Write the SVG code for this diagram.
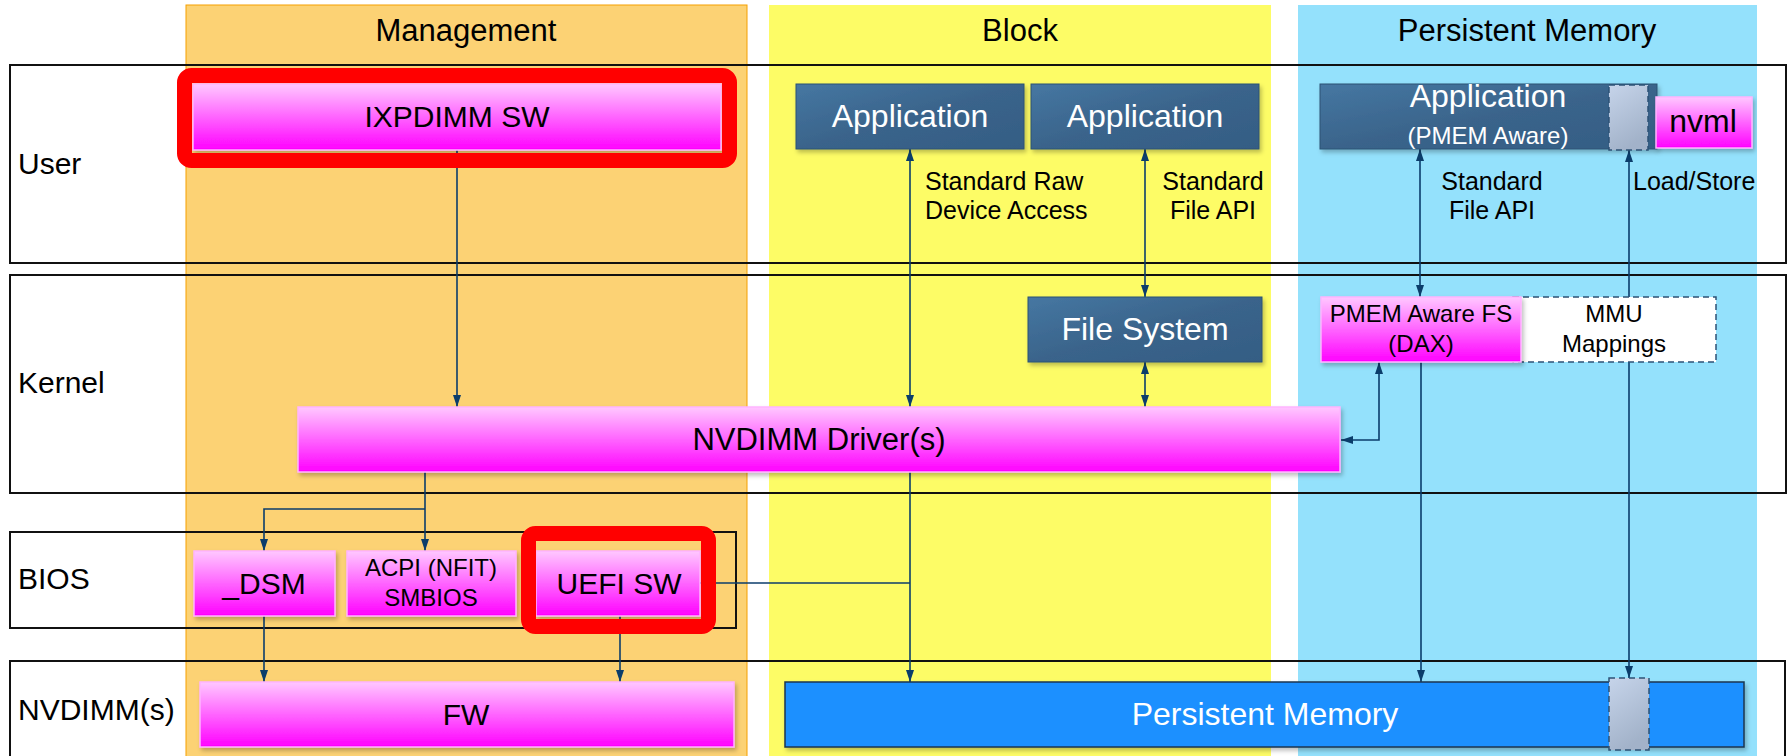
<svg xmlns="http://www.w3.org/2000/svg" width="1788" height="756" viewBox="0 0 1788 756">
<defs>
<linearGradient id="mag" x1="0" y1="0" x2="0" y2="1"><stop offset="0" stop-color="#ffc8ff"/><stop offset="1" stop-color="#ff00ff"/></linearGradient>
<linearGradient id="dk" x1="0" y1="0" x2="1" y2="1"><stop offset="0" stop-color="#4677a2"/><stop offset="0.5" stop-color="#3a648b"/><stop offset="1" stop-color="#345d84"/></linearGradient>
<linearGradient id="gry" x1="0" y1="0" x2="0.4" y2="1"><stop offset="0" stop-color="#c6d4ea"/><stop offset="1" stop-color="#a2b2c9"/></linearGradient>
<filter id="sh" x="-5%" y="-10%" width="110%" height="130%"><feDropShadow dx="2" dy="3" stdDeviation="2" flood-color="#000" flood-opacity="0.25"/></filter>
<marker id="ah" viewBox="0 0 12 8" refX="12" refY="4" markerWidth="12" markerHeight="8" markerUnits="userSpaceOnUse" orient="auto-start-reverse"><path d="M0,0 L12,4 L0,8 z" fill="#0b3d6b"/></marker>
<style>
text{font-family:"Liberation Sans",Arial,sans-serif;}
.hdr{font-size:31px;fill:#000;text-anchor:middle;}
.row{font-size:30px;fill:#000;}
.mag{fill:url(#mag);stroke:#ffb4ff;stroke-width:1.5;filter:url(#sh);}
.dk{fill:url(#dk);stroke:#2c5275;stroke-width:1;filter:url(#sh);}
.red{fill:none;stroke:#ff0000;stroke-width:15;}
.t30{font-size:30px;fill:#000;text-anchor:middle;}
.w32{font-size:32px;fill:#fff;text-anchor:middle;}
.t24{font-size:24px;fill:#000;text-anchor:middle;}
.lbl{font-size:25px;fill:#000;}
.cn path{fill:none;stroke:#0b3d6b;stroke-width:1.6;}
.dash{stroke:#2c5275;stroke-width:1.5;stroke-dasharray:6,4;}
</style>
</defs>
<rect x="0" y="0" width="1788" height="756" fill="#fff"/>
<g id="columns">
<rect x="186" y="5" width="561" height="760" fill="#fcd274" stroke="#f5a000" stroke-width="1"/>
<rect x="769" y="5" width="502" height="760" fill="#fdfc66"/>
<rect x="1298" y="5" width="459" height="760" fill="#94e1fc"/>
<text class="hdr" x="466" y="41">Management</text>
<text class="hdr" x="1020" y="41">Block</text>
<text class="hdr" x="1527" y="41">Persistent Memory</text>
</g>
<g id="rows" fill="none" stroke="#111" stroke-width="2">
<rect x="10" y="65" width="1776" height="198"/>
<rect x="10" y="275" width="1776" height="218"/>
<rect x="10" y="532" width="726" height="96"/>
<rect x="10" y="661" width="1775" height="110"/>
</g>
<g id="row-labels">
<text class="row" x="18" y="174">User</text>
<text class="row" x="18" y="393">Kernel</text>
<text class="row" x="18" y="589">BIOS</text>
<text class="row" x="18" y="720">NVDIMM(s)</text>
</g>
<g id="connectors" class="cn">
<path d="M457,150 V407" marker-end="url(#ah)"/>
<path d="M910,149 V407" marker-start="url(#ah)" marker-end="url(#ah)"/>
<path d="M910,472 V682" marker-end="url(#ah)"/>
<path d="M700,583 H910"/>
<path d="M1145,149 V297" marker-start="url(#ah)" marker-end="url(#ah)"/>
<path d="M1145,362 V407" marker-start="url(#ah)" marker-end="url(#ah)"/>
<path d="M425,472 V551" marker-end="url(#ah)"/>
<path d="M425,509 H264 V551" marker-end="url(#ah)"/>
<path d="M264,616 V682" marker-end="url(#ah)"/>
<path d="M620,616 V682" marker-end="url(#ah)"/>
<path d="M1420,149 V297" marker-start="url(#ah)" marker-end="url(#ah)"/>
<path d="M1421,362 V682" marker-end="url(#ah)"/>
<path d="M1629,150 V678" marker-start="url(#ah)" marker-end="url(#ah)"/>
<path d="M1341,440 H1379 V362" marker-start="url(#ah)" marker-end="url(#ah)"/>
</g>
<g id="ixpdimm">
<rect class="mag" x="193" y="84" width="528" height="66"/>
<text class="t30" x="457" y="127">IXPDIMM SW</text>
<rect class="red" x="184.5" y="75.5" width="545" height="85" rx="7"/>
</g>
<g id="app1">
<rect class="dk" x="796" y="84" width="228" height="65"/>
<text class="w32" x="910" y="127">Application</text>
</g>
<g id="app2">
<rect class="dk" x="1031" y="84" width="228" height="65"/>
<text class="w32" x="1145" y="127">Application</text>
</g>
<g id="label-raw">
<text class="lbl" x="925" y="190">Standard Raw</text>
<text class="lbl" x="925" y="219">Device Access</text>
</g>
<g id="label-file1">
<text class="lbl" x="1213" y="190" text-anchor="middle">Standard</text>
<text class="lbl" x="1213" y="219" text-anchor="middle">File API</text>
</g>
<g id="app-pmem">
<rect class="dk" x="1320" y="84" width="337" height="65"/>
<text class="w32" x="1488" y="107">Application</text>
<text x="1488" y="144" style="font-size:24px;fill:#fff;text-anchor:middle">(PMEM Aware)</text>
<rect x="1609" y="85" width="39" height="65" fill="url(#gry)" class="dash"/>
</g>
<g id="nvml">
<rect class="mag" x="1656" y="97" width="96" height="51"/>
<text x="1703" y="132" style="font-size:32px;fill:#000;text-anchor:middle">nvml</text>
</g>
<g id="label-file2">
<text class="lbl" x="1492" y="190" text-anchor="middle">Standard</text>
<text class="lbl" x="1492" y="219" text-anchor="middle">File API</text>
</g>
<g id="label-ls">
<text class="lbl" x="1633" y="190">Load/Store</text>
</g>
<g id="filesystem">
<rect class="dk" x="1028" y="297" width="234" height="65"/>
<text class="w32" x="1145" y="340">File System</text>
</g>
<g id="mmu">
<rect x="1513" y="297" width="203" height="65" fill="#fff" class="dash"/>
<text class="t24" x="1614" y="322">MMU</text>
<text class="t24" x="1614" y="352">Mappings</text>
</g>
<g id="pmemfs">
<rect class="mag" x="1321" y="297" width="200" height="65"/>
<text class="t24" x="1421" y="322">PMEM Aware FS</text>
<text class="t24" x="1421" y="352">(DAX)</text>
</g>
<g id="driver">
<rect class="mag" x="298" y="407" width="1042" height="65"/>
<text x="819" y="450" style="font-size:31px;fill:#000;text-anchor:middle">NVDIMM Driver(s)</text>
</g>
<g id="dsm">
<rect class="mag" x="194" y="551" width="141" height="65"/>
<text class="t30" x="264" y="594">_DSM</text>
</g>
<g id="acpi">
<rect class="mag" x="347" y="551" width="169" height="65"/>
<text class="t24" x="431" y="576">ACPI (NFIT)</text>
<text class="t24" x="431" y="606">SMBIOS</text>
</g>
<g id="uefi">
<rect class="mag" x="536" y="551" width="164" height="65"/>
<text class="t30" x="619" y="594">UEFI SW</text>
<rect class="red" x="528.5" y="533.5" width="180" height="93" rx="7"/>
</g>
<g id="fw">
<rect class="mag" x="200" y="682" width="534" height="65"/>
<text class="t30" x="466" y="725">FW</text>
</g>
<g id="pm">
<rect x="785" y="682" width="959" height="65" fill="#1e90ff" stroke="#1a3550" stroke-width="1.5" filter="url(#sh)"/>
<text class="w32" x="1265" y="725">Persistent Memory</text>
<rect x="1609" y="678" width="40" height="72" fill="url(#gry)" class="dash"/>
</g>
</svg>
